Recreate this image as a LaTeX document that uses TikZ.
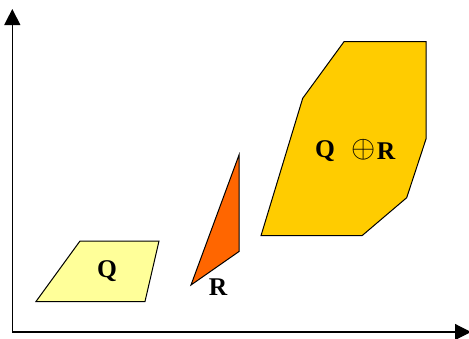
\documentclass[tikz,border=0pt]{standalone}
\usepackage{fontspec}
\setmainfont{Liberation Serif}
\usetikzlibrary{arrows.meta}
\definecolor{qfill}{HTML}{FFFF99}
\definecolor{rfill}{HTML}{FF6600}
\definecolor{sumfill}{HTML}{FFCC00}
\tikzset{
  axis/.style={line width=1.2pt,-{Triangle[length=16pt,width=16pt]}},
  polyshape/.style={draw=black,line width=1pt,line join=miter},
  lbl/.style={font=\fontsize{25.5}{25.5}\selectfont\bfseries,inner sep=0pt}
}
\begin{document}
\begin{tikzpicture}[x=1pt,y=-1pt]
\useasboundingbox (0,0) rectangle (469,338);
\coordinate (o) at (12.3,332);
\coordinate (ytip) at (12.3,9);
\coordinate (xtip) at (471,332);
\draw[axis] (o) -- (ytip);
\draw[axis] (o) -- (xtip);
% Q
\draw[polyshape,fill=qfill] (80,241) -- (159,241) -- (145,301.5) -- (36,301.5) -- cycle;
\node[lbl] (q) at (107,271.5) {Q};
% R
\draw[polyshape,fill=rfill] (239,155) -- (239,251.5) -- (191,285) -- cycle;
\node[lbl] (r) at (218,287) {R};
% Q+R
\draw[polyshape,fill=sumfill] (344,41.7) -- (426,41.7) -- (426,139) -- (406.7,197.7) -- (362,235.7) -- (261,235.7) -- (302.7,98.3) -- cycle;
\node[lbl] (sq) at (325,151.5) {Q};
\node[inner sep=0pt,scale=1.5,font=\fontsize{20}{20}\selectfont] (op) at (363.3,149.5) {$\oplus$};
\node[lbl] (sr) at (386,151) {R};
\end{tikzpicture}
\end{document}
